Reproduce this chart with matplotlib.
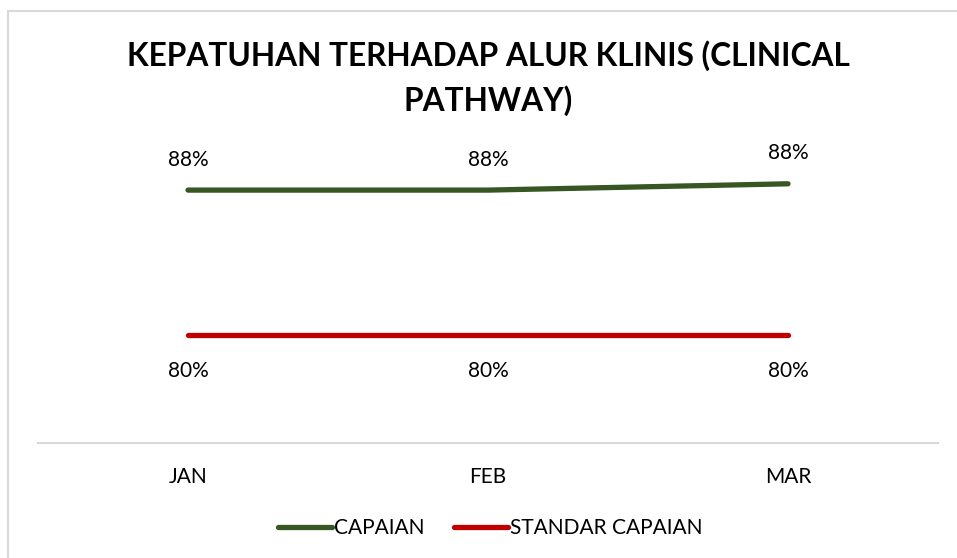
import matplotlib.pyplot as plt
from matplotlib.patches import Rectangle

months = ['JAN', 'FEB', 'MAR']
capaian = [88.05, 88.05, 88.4]
standar = [80, 80, 80]
capaian_labels = ['88%', '88%', '88%']
standar_labels = ['80%', '80%', '80%']

plt.rcParams['font.family'] = ['Lato', 'DejaVu Sans']

fig = plt.figure(figsize=(9.57, 5.58), dpi=100)
ax = fig.add_axes([38 / 957, 115 / 558, 900 / 957, 288 / 558])

x = range(len(months))
ax.plot(x, capaian, color='#375623', lw=3.8, solid_capstyle='round', label='CAPAIAN')
ax.plot(x, standar, color='#C00000', lw=3.8, solid_capstyle='round', label='STANDAR CAPAIAN')

for i in x:
    ax.annotate(capaian_labels[i], (i, capaian[i]), xytext=(0, 22), textcoords='offset points',
                ha='center', va='center', fontsize=15)
    ax.annotate(standar_labels[i], (i, standar[i]), xytext=(0, -26), textcoords='offset points',
                ha='center', va='center', fontsize=15)

ax.set_xlim(-0.5, 2.5)
ax.set_ylim(74, 90)
ax.set_xticks(list(x))
ax.set_xticklabels(months, fontsize=15)
ax.tick_params(axis='x', length=0, pad=17)
ax.set_yticks([])
for s in ['top', 'left', 'right']:
    ax.spines[s].set_visible(False)
ax.spines['bottom'].set_color('#d9d9d9')
ax.spines['bottom'].set_linewidth(1.5)

fig.text(488 / 957, 1 - 78 / 558, 'KEPATUHAN TERHADAP ALUR KLINIS (CLINICAL\nPATHWAY)',
         ha='center', va='center', fontsize=22.8, fontweight='bold', linespacing=1.55)

fig.legend(loc='center', bbox_to_anchor=(490 / 957, 1 - 528 / 558), ncol=2, frameon=False,
           fontsize=15, handlelength=2.6, handletextpad=0.1, columnspacing=1.4)

fig.patches.append(Rectangle((8 / 957, -0.1), 1.2, 1 - 11 / 558 + 0.1, transform=fig.transFigure,
                             fill=False, edgecolor='#d9d9d9', lw=1.5))

fig.savefig('out.png', dpi=100)
